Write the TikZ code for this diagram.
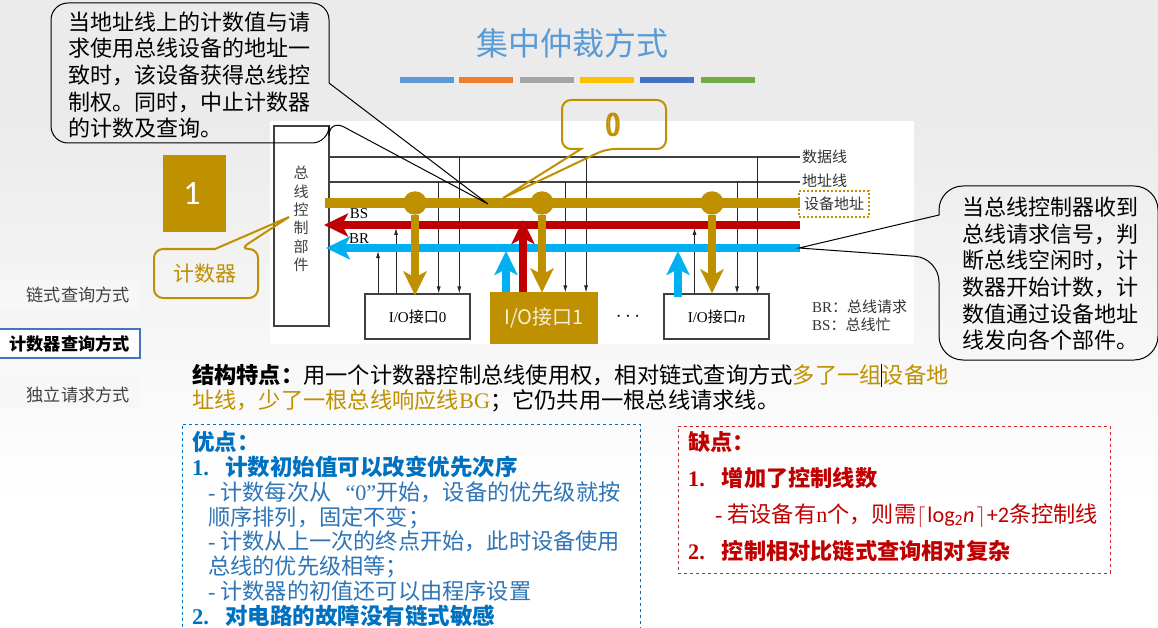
\documentclass[tikz,border=0pt]{standalone}
\usepackage{xcolor}
\usepackage{fontspec}
\usepackage{tikz}
\usetikzlibrary{arrows.meta,positioning,calc}
\setmainfont{Noto Sans CJK SC}
\newfontfamily\lat{Liberation Serif}
\newfontfamily\carl{Carlito}
\newcommand{\strongline}[1]{\fontsize{22.5}{24.75}\selectfont\textbf{#1}}
\definecolor{mGold}{RGB}{191,144,0}
\definecolor{mRed}{RGB}{192,0,0}
\definecolor{mCyan}{RGB}{0,176,240}
\definecolor{mBlue}{RGB}{0,112,192}
\definecolor{mSoft}{RGB}{46,117,182}
\definecolor{mGray}{RGB}{235,235,235}
\definecolor{mLine}{RGB}{64,64,64}
\definecolor{mTitle}{RGB}{91,155,213}
\definecolor{mOrange}{RGB}{237,125,49}
\definecolor{mSilver}{RGB}{165,165,165}
\definecolor{mYellow}{RGB}{255,192,0}
\definecolor{mIndigo}{RGB}{68,114,196}
\definecolor{mGreen}{RGB}{112,173,71}
\tikzset{
  titlebar/.style={fill=#1,minimum width=54pt,minimum height=6pt,inner sep=0pt},
  busline/.style={draw=mLine,line width=1.2pt},
  tapdown/.style={-{Latex[length=7pt,width=4pt]},line width=0.8pt,black!85},
  tapup/.style={-{Latex[length=7pt,width=4pt]},line width=0.8pt,black!85},
  fatarrow/.style={-{Stealth[length=24pt,width=23pt,inset=6pt]},line width=#1},
  busdot/.style={circle,fill=mGold,minimum size=23.5pt,inner sep=0pt},
  iobox/.style={draw=mLine,line width=1.1pt,fill=white,minimum width=105pt,minimum height=45pt,inner sep=0pt,font=\fontsize{15}{18}\selectfont},
  plainlabel/.style={inner sep=0pt,text=black!80,font=\fontsize{15}{18}\selectfont},
  talkline/.style={draw=black,line width=1pt},
  goldtalk/.style={draw=mGold,line width=2pt},
  talktext/.style={inner sep=0pt,align=left,anchor=north west,font=\fontsize{22}{26.6}\selectfont},
  navitem/.style={anchor=east,inner sep=0pt,font=\fontsize{17.2}{20}\selectfont},
  listtext/.style={inner sep=0pt,align=left,anchor=north west,font=\fontsize{22.2}{24.75}\selectfont}
}
\begin{document}
\begin{tikzpicture}[x=1pt,y=-1pt]
\useasboundingbox (0,0) rectangle (1158,628);
\fill[white] (0,0) rectangle (1158,628);
\fill[mGray] (0,0) rectangle (1158,121);
\shade[top color=mGray,bottom color=white] (0,121) rectangle (1158,500);
\fill[white] (270,121) rectangle (914,344);
% title
\node[text=mTitle,inner sep=0pt,font=\fontsize{32}{36}\selectfont] (title) at (572,43) {集中仲裁方式};
\node[titlebar=mTitle] (barA) at (427,80) {};
\node[titlebar=mOrange] (barB) at (486,80) {};
\node[titlebar=mSilver] (barC) at (547,80) {};
\node[titlebar=mYellow] (barD) at (607,80) {};
\node[titlebar=mIndigo] (barE) at (667,80) {};
\node[titlebar=mGreen] (barF) at (728,80) {};
% left menu
\fill[black!3] (0,280) rectangle (140,309);
\fill[black!3] (0,378) rectangle (140,408);
\node[draw=mIndigo,line width=2.5pt,fill=white,minimum width=141pt,minimum height=29pt,inner sep=0pt] (navBox) at (69.5,343.5) {};
\node[navitem,text=black!75] (navChain) at (130,295) {链式查询方式};
\node[navitem,font=\fontsize{17.2}{20}\selectfont\bfseries] (navCount) at (130,344) {计数器查询方式};
\node[navitem,text=black!75] (navAlone) at (130,395) {独立请求方式};
% counter square
\node[fill=mGold,text=white,minimum width=63pt,minimum height=77pt,inner sep=0pt,font=\carl\fontsize{34}{36}\selectfont] (square) at (194.5,193.5) {\kern-5pt 1};
% control box
\node[draw=mLine,line width=1.1pt,fill=white,minimum width=55pt,minimum height=200pt,inner sep=0pt] (ctrl) at (301.5,226) {};
\node[inner sep=0pt,align=center,text=black!75,font=\fontsize{15}{18.4}\selectfont] (ctrlText) at (301,219) {总\\线\\控\\制\\部\\件};
% io boxes
\node[iobox] (ioA) at (417.5,316.5) {{\lat I/O}接口{\lat 0}};
\node[iobox,draw=mGold,fill=mGold,text=white!85!mGold,minimum width=106pt,minimum height=50pt,font=\fontsize{20}{24}\selectfont] (ioB) at (544,318) {I/O接口1};
\node[iobox] (ioN) at (716.5,316.5) {{\lat I/O}接口{\lat\itshape n}};
\node[inner sep=0pt,font=\fontsize{20}{24}\selectfont] (dots) at (628,317) {$\cdots$};
% bus ends and taps
\coordinate (dataEnd) at (800,157);
\coordinate (addrEnd) at (800,182);
\coordinate (goldEnd) at (800,203);
\coordinate (redEnd) at (800,225);
\coordinate (cyanEnd) at (800,248);
\coordinate (goldStart) at (325,203);
\coordinate (redStart) at (324,225);
\coordinate (cyanStart) at (326,248);
\coordinate (upCyanA) at (378,251);
\coordinate (upRedA) at (396,228);
\coordinate (addrA) at (438.7,182);
\coordinate (dataA) at (459.3,157);
\coordinate (upCyanB) at (506,251);
\coordinate (upRedB) at (523,220);
\coordinate (addrB) at (565.3,182);
\coordinate (dataB) at (586,157);
\coordinate (upCyanN) at (678,251);
\coordinate (upRedN) at (694.5,228);
\coordinate (addrN) at (737,182);
\coordinate (dataN) at (757.6,157);
\draw[busline] (ctrl.east |- dataEnd)--(dataEnd);
\draw[busline] (ctrl.east |- addrEnd)--(addrEnd);
\draw[tapdown] (addrA)--(addrA |- ioA.north);
\draw[tapdown] (dataA)--(dataA |- ioA.north);
\draw[tapdown] (addrB)--(addrB |- ioB.north);
\draw[tapdown] (dataB)--(dataB |- ioB.north);
\draw[tapdown] (addrN)--(addrN |- ioN.north);
\draw[tapdown] (dataN)--(dataN |- ioN.north);
\draw[tapup] (upCyanA |- ioA.north)--(upCyanA);
\draw[tapup] (upRedA |- ioA.north)--(upRedA);
\draw[tapup] (upRedN |- ioN.north)--(upRedN);
% thick buses
\draw[mCyan,fatarrow=7.5pt] (cyanEnd)--(cyanStart);
\draw[mRed,fatarrow=7.5pt] (redEnd)--(redStart);
\draw[mGold,line width=9.5pt] (goldStart)--(goldEnd);
\draw[mCyan,fatarrow=7.5pt] (upCyanB |- ioB.north)--(upCyanB);
\draw[mRed,fatarrow=7.5pt] (upRedB |- ioB.north)--(upRedB);
\draw[mCyan,fatarrow=7.5pt] ($(upCyanN |- ioN.north)+(0,4)$)--(upCyanN);
\node[busdot] (dotA) at (415,203) {};
\node[busdot] (dotB) at (542,203) {};
\node[busdot] (dotN) at (712,203) {};
\draw[mGold,fatarrow=8pt] (dotA)--($(dotA |- ioA.north)+(0,2)$);
\draw[mGold,fatarrow=8pt] (dotB)--(dotB |- ioB.north);
\draw[mGold,fatarrow=8pt] (dotN)--(dotN |- ioN.north);
% bus labels
\node[plainlabel,anchor=west] (dataName) at (802,157) {数据线};
\node[plainlabel,anchor=west] (addrName) at (802,181) {地址线};
\node[plainlabel,draw=mGold,line width=2pt,dotted,minimum width=70pt,minimum height=26pt] (devAddr) at (834,204) {设备地址};
\node[inner sep=0pt,font=\lat\fontsize{15}{18}\selectfont] (bsName) at (359,214) {BS};
\node[inner sep=0pt,font=\lat\fontsize{15}{18}\selectfont] (brName) at (359,239) {BR};
\node[plainlabel,anchor=west] (brNote) at (812,307) {{\lat BR}：总线请求};
\node[plainlabel,anchor=west] (bsNote) at (812,325) {{\lat BS}：总线忙};
% callouts
\coordinate (tipLeft) at (488,204);
\coordinate (tipRight) at (799,248);
\coordinate (tipZero) at (503,198);
\coordinate (tipCounter) at (289,217);
\draw[talkline] (tipLeft)--(329,83) [rounded corners=17pt] --(329,3)--(51,3)--(51,143)--(329,143)--(329,119) [sharp corners] --cycle;
\node[talktext] (talkLeft) at (68,11.5) {当地址线上的计数值与请\\求使用总线设备的地址一\\致时，该设备获得总线控\\制权。同时，中止计数器\\的计数及查询。};
\draw[talkline] (tipRight)--(939,215) [rounded corners=24pt] --(939,186)--(1158,186)--(1158,360)--(939,360)--(939,258) [sharp corners] --cycle;
\node[talktext] (talkRight) at (962,197) {当总线控制器收到\\总线请求信号，判\\断总线空闲时，计\\数器开始计数，计\\数值通过设备地址\\线发向各个部件。};
\draw[goldtalk] (tipZero)--(581,149) [rounded corners=9pt] --(562,149)--(562,100)--(666,100)--(666,149)--(606,149) [sharp corners] --cycle;
\node[inner sep=0pt,text=mGold,font=\carl\fontsize{36}{40}\selectfont] (zeroText) at (613,125) {\scalebox{0.7}[1]{\rlap{0}\hspace{2.5pt}0}};
\draw[goldtalk] (tipCounter)--(215,249) [rounded corners=9pt] --(154,249)--(154,298)--(258,298)--(258,249)--(240,249) [sharp corners] --cycle;
\node[inner sep=0pt,text=mGold,font=\fontsize{21}{24}\selectfont] (counterText) at (205,274) {计数器};
% structure text
\node[listtext,font=\fontsize{22.25}{25}\selectfont] (structText) at (192,364) {\textbf{结构特点：}用一个计数器控制总线使用权，相对链式查询方式\textcolor{mGold}{多了一组设备地}\\\textcolor{mGold}{址线，少了一根总线响应线{\lat BG}}；它仍共用一根总线请求线。};
\coordinate (caretTop) at (881,364);
\coordinate (caretEnd) at (881,387);
\draw[line width=0.8pt] (caretTop)--(caretEnd);
% pros
\node[draw=mBlue,dashed,line width=0.9pt,minimum width=458pt,minimum height=210pt,inner sep=0pt] (prosBox) at (411,529) {};
\node[listtext,text=mSoft] (prosText) at (192,431.5) {\textcolor{mBlue}{\strongline{优点：}}\\
\textcolor{mBlue}{\strongline{{\lat 1.}\hspace{16pt}计数初始值可以改变优先次序}}\\
\hspace{16pt}{\lat -} 计数每次从\hspace{9pt} {\lat “0”}开始，设备的优先级就按\\
\hspace{16pt}顺序排列，固定不变；\\
\hspace{16pt}{\lat -} 计数从上一次的终点开始，此时设备使用\\
\hspace{16pt}总线的优先级相等；\\
\hspace{16pt}{\lat -} 计数器的初值还可以由程序设置\\
\textcolor{mBlue}{\strongline{{\lat 2.}\hspace{16pt}对电路的故障没有链式敏感}}};
% cons
\node[draw=mRed!85,dashed,line width=0.9pt,minimum width=432pt,minimum height=147pt,inner sep=0pt] (consBox) at (894,499.5) {};
\node[listtext,text=mRed,font=\fontsize{22.2}{36.3}\selectfont] (consText) at (688,431) {\textbf{缺点：}\\
\textbf{{\lat 1.}\hspace{17pt}增加了控制线数}\\
\hspace{27pt}{\lat -} 若设备有{\lat n}个，则需$\Big\lceil$\hspace{2pt}{\carl log\textsubscript{2}\itshape n}\hspace{2pt}$\Big\rceil$\hspace{1pt}{\carl +2}条控制线\\
\textbf{{\lat 2.}\hspace{17pt}控制相对比链式查询相对复杂}};
\end{tikzpicture}
\end{document}
